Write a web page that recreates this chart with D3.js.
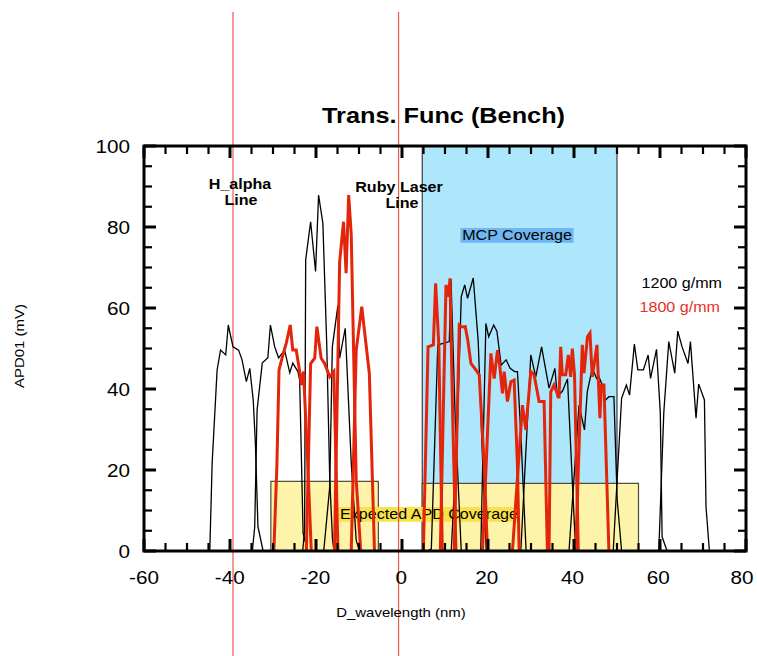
<!DOCTYPE html>
<html>
<head>
<meta charset="utf-8">
<script src="https://cdn.jsdelivr.net/npm/d3@7"></script>
<style>
  html, body { margin: 0; padding: 0; background: #fff; }
  svg { display: block; }
  text { font-family: 'Liberation Sans', Arial, Helvetica, sans-serif; }
</style>
</head>
<body>
<svg id="chart" width="757" height="656"></svg>
<script>
// ---- data -------------------------------------------------------------
const xTicks = [-60, -40, -20, 0, 20, 40, 60, 80];
const yTicks = [0, 20, 40, 60, 80, 100];

// reference spectral lines (nm offset)
const lineNames = [["H_alpha", "Line"], ["Ruby Laser", "Line"]];
const lineOffsets = [-39.3, -0.8];

// coverage bands: [from nm, to nm, height mV]
const mcpBand = [4.7, 50, 100];
const apdBands = [[-30.5, -5.5, 17.2], [4.7, 55, 16.7]];

const seriesNames = ["1200 g/mm", "1800 g/mm"];

// 1200 g/mm transmission scans, [nm, mV]
const g1200_a = [[-44.7,0],[-44.15,21.7],[-43.0,44.7],[-42.2,49.6],[-41.0,48.4],[-40.4,55.8],[-39.3,50.4],[-38.0,49.6],[-37.2,47.2],[-36.2,41.8],[-35.4,45.1],[-34.6,37.3],[-34.1,26.7],[-33.5,6.0],[-32.3,0]];
const g1200_b = [[-34.8,0],[-34.25,6.0],[-33.7,34.8],[-32.5,46.4],[-31.2,47.7],[-30.6,55.8],[-29.6,50.4],[-28.7,47.7],[-27.3,49.6],[-26.1,44.0],[-25.4,46.4],[-24.2,44.3],[-23.8,42.2],[-23.0,4.4],[-21.95,0]];
const g1200_c = [[-23.1,0],[-22.65,5.2],[-22.4,71.9],[-21.25,81.3],[-20.1,69.0],[-19.4,87.9],[-18.4,80.9],[-17.5,50.9],[-16.8,17.5],[-16.15,2.7],[-15.8,0]];
const g1200_d = [[-18.2,0],[-16.8,15.9],[-16.2,50.4],[-14.9,60.7],[-14.5,47.6],[-13.2,55.0],[-11.8,21.7],[-10.65,2.7],[-9.9,0]];
const g1200_e = [[5.78,0],[6.82,0.5],[8.33,50.9],[9.84,51.3],[11.0,51.7],[11.39,67.2],[12.39,32.3],[13.78,0]];
const g1200_f = [[11.46,0],[12.85,29.9],[13.78,62.8],[14.59,65.7],[15.24,62.4],[16.57,67.4],[17.73,51.7],[18.65,24.9],[19.58,0]];
const g1200_g = [[18.31,0],[19.51,56.2],[20.16,52.9],[21.32,55.8],[22.07,54.3],[23.06,45.9],[24.22,47.2],[25.15,45.1],[26.2,44.3],[26.85,44.3],[27.7,27.4],[28.86,0]];
const g1200_h = [[27.63,0],[29.95,48.4],[31.11,43.0],[32.46,50.4],[34.2,40.2],[35.55,45.1],[36.13,38.1],[37.33,39.5],[38.49,42.5],[39.61,17.1],[40.4,0]];
const g1200_i = [[38.84,0],[41.16,36.0],[42.44,29.9],[43.09,39.3],[44.25,45.1],[45.27,42.6],[45.8,43.0],[46.57,41.0],[47.36,37.3],[48.12,38.1],[49.28,38.1],[50.05,12.6],[51.07,0]];
const g1200_j = [[49.12,0],[51.07,37.7],[52.18,41.0],[52.92,38.5],[54.04,51.1],[54.85,44.7],[56.13,44.7],[57.24,48.4],[57.8,42.6],[59.19,49.8],[60.07,34.1],[60.49,3.5],[61.65,0]];
const g1200_k = [[59.72,0],[60.88,34.1],[62.04,51.7],[63.43,43.9],[64.13,54.3],[65.13,50.4],[66.52,46.3],[67.08,51.7],[68.38,32.8],[69.0,41.2],[70.33,37.3],[70.7,10.9],[71.49,0]];

// 1800 g/mm transmission scans, [nm, mV]
const g1800_a = [[-29.8,0],[-29.1,21],[-28.6,44.7],[-27.7,48.4],[-26.9,51.4],[-26.0,55.8],[-25.4,49.6],[-24.6,49.6],[-23.8,44.3],[-23.4,41.0],[-22.9,44.3],[-21.95,22.5],[-21.1,0]];
const g1800_b = [[-22.25,0],[-21.25,46.3],[-20.3,47.6],[-19.8,55.4],[-18.8,47.6],[-18.0,46.3],[-16.8,43.0],[-15.85,44.3],[-14.9,0]];
const g1800_c = [[-15.7,0],[-14.5,71.4],[-13.6,81.3],[-13.0,68.6],[-12.4,87.9],[-11.8,78.0],[-10.65,17.5],[-9.6,0]];
const g1800_d = [[-11.8,0],[-10.65,49.6],[-9.35,60.3],[-8.7,54.1],[-7.6,43.9],[-6.4,0]];
const g1800_e = [[4.97,0],[6.06,50.4],[7.29,50.9],[7.82,66.1],[8.56,50.9],[9.37,0]];
const g1800_f = [[8.91,0],[10.23,65.7],[10.84,62.8],[11.16,67.3],[11.81,32.3],[12.55,0]];
const g1800_g = [[12.16,0],[13.32,55.8],[14.01,55.3],[14.71,55.4],[15.29,52.1],[16.03,46.3],[17.19,44.7],[17.96,43.5],[19.12,21.2],[19.88,0]];
const g1800_h = [[18.73,0],[20.67,48.8],[21.44,42.6],[22.21,49.6],[22.72,45.9],[23.36,38.9],[23.76,44.3],[24.53,36.9],[25.31,41.8],[26.08,42.2],[26.85,21.2],[27.24,0]];
const g1800_i = [[25.69,0],[28.01,36.0],[28.79,29.9],[29.95,44.3],[30.72,43.5],[31.88,36.9],[33.04,36.9],[33.81,0]];
const g1800_j = [[34.2,0],[34.59,39.3],[35.36,41.0],[36.52,37.7],[36.91,50.4],[37.29,43.5],[38.07,43.5],[38.68,48.4],[39.23,43.0],[39.61,50.0],[40.12,43.5],[41.0,0]];
const g1800_k = [[40.4,0],[41.93,50.9],[42.32,43.9],[43.13,52.9],[43.71,53.8],[44.25,43.0],[45.34,50.9],[46.03,32.8],[46.33,41.0],[46.96,41.0],[48.12,0]];

const scans1200 = [g1200_a, g1200_b, g1200_c, g1200_d, g1200_e, g1200_f, g1200_g, g1200_h, g1200_i, g1200_j, g1200_k];
const scans1800 = [g1800_a, g1800_b, g1800_c, g1800_d, g1800_e, g1800_f, g1800_g, g1800_h, g1800_i, g1800_j, g1800_k];

// ---- drawing ----------------------------------------------------------
const svg = d3.select("#chart");
const x = d3.scaleLinear().domain([-60, 80]).range([144, 746]);
const y = d3.scaleLinear().domain([0, 100]).range([551, 146]);
// tick numbers sit on a slightly tighter spacing than the tick marks
const xLabel = d3.scaleLinear().domain([-60, 80]).range([144, 744]);

const RED_LINE = "#e95a45";
const RED_SCAN = "#e3250b";
const WIDE = 1.15; // horizontal glyph stretch used for all text

function label(parent, str, px, py, o = {}) {
  const g = parent.append("g")
    .attr("transform", `translate(${px},${py})` + (o.rotate ? ` rotate(${o.rotate})` : "") + ` scale(${WIDE},1)`);
  const t = g.append("text")
    .attr("text-anchor", o.anchor || "middle")
    .attr("font-size", o.size || 14)
    .attr("font-weight", o.bold ? "bold" : "normal")
    .attr("fill", o.color || "#000")
    .text(str);
  if (o.bg) {
    const b = t.node().getBBox();
    g.insert("rect", "text")
      .attr("x", b.x - 1.5).attr("y", b.y + 1)
      .attr("width", b.width + 3).attr("height", b.height - 1)
      .attr("fill", o.bg);
  }
  return g;
}

// coverage bands
svg.append("rect")
  .attr("x", x(mcpBand[0])).attr("y", y(mcpBand[2]))
  .attr("width", x(mcpBand[1]) - x(mcpBand[0]))
  .attr("height", y(0) - y(mcpBand[2]))
  .attr("fill", "#aee6fb").attr("stroke", "#1a1a1a").attr("stroke-width", 1);

svg.selectAll("rect.apd").data(apdBands).join("rect")
  .attr("class", "apd")
  .attr("x", d => x(d[0])).attr("y", d => y(d[2]))
  .attr("width", d => x(d[1]) - x(d[0]))
  .attr("height", d => y(0) - y(d[2]))
  .attr("fill", "#fdf3a9").attr("stroke", "#4a4a3a").attr("stroke-width", 1.2);

label(svg, "MCP Coverage", 517, 240, { size: 14, bg: "#6fb7f2" });
label(svg, "Expected APD Coverage", 429, 519, { size: 14, bg: "#f8e24c" });

// reference line markers
svg.selectAll("line.ref").data(lineOffsets).join("line")
  .attr("class", "ref")
  .attr("x1", d => x(d)).attr("x2", d => x(d))
  .attr("y1", 12).attr("y2", 656)
  .attr("stroke", RED_LINE).attr("stroke-width", 1.2);

label(svg, lineNames[0][0], 240, 189, { size: 14, bold: true });
label(svg, lineNames[0][1], 241, 205, { size: 14, bold: true });
label(svg, lineNames[1][0], 399, 192, { size: 14, bold: true });
label(svg, lineNames[1][1], 402, 208, { size: 14, bold: true });

// scans
const line = d3.line().x(d => x(d[0])).y(d => y(d[1]));
svg.append("g").selectAll("path").data(scans1200).join("path")
  .attr("d", line).attr("fill", "none")
  .attr("stroke", "#000").attr("stroke-width", 1.3).attr("stroke-linejoin", "miter");
svg.append("g").selectAll("path").data(scans1800).join("path")
  .attr("d", line).attr("fill", "none")
  .attr("stroke", RED_SCAN).attr("stroke-width", 3).attr("stroke-linejoin", "miter");

// frame
svg.append("rect")
  .attr("x", x(-60)).attr("y", y(100))
  .attr("width", x(80) - x(-60)).attr("height", y(0) - y(100))
  .attr("fill", "none").attr("stroke", "#000").attr("stroke-width", 3);

// inward ticks on all four sides: every 5 units, longer every 20
const tickX = d3.range(-60, 81, 5).map(v => ({ v, major: v % 20 === 0 }));
const tickY = d3.range(0, 101, 5).map(v => ({ v, major: v % 20 === 0 }));
const tg = svg.append("g").attr("stroke", "#000").attr("stroke-linecap", "butt");
const len = d => d.major ? 12 : 8;
const wid = d => d.major ? 3 : 2.2;
[[y(0), -1], [y(100), 1]].forEach(([py, dir]) => {
  tg.append("g").selectAll("line").data(tickX).join("line")
    .attr("x1", d => x(d.v)).attr("x2", d => x(d.v))
    .attr("y1", py).attr("y2", d => py + dir * len(d))
    .attr("stroke-width", wid);
});
[[x(-60), 1], [x(80), -1]].forEach(([px, dir]) => {
  tg.append("g").selectAll("line").data(tickY).join("line")
    .attr("y1", d => y(d.v)).attr("y2", d => y(d.v))
    .attr("x1", px).attr("x2", d => px + dir * len(d))
    .attr("stroke-width", wid);
});

// tick labels
xTicks.forEach(v => label(svg, String(v), Math.min(xLabel(v), 742), 584, { size: 18 }));
yTicks.forEach(v => label(svg, String(v), 130, y(v) + 6.5, { size: 18, anchor: "end" }));

// titles
label(svg, "Trans. Func (Bench)", 443.5, 123, { size: 22, bold: true });
label(svg, "D_wavelength (nm)", 401, 617, { size: 13 });
label(svg, "APD01 (mV)", 24, 346, { size: 13, rotate: -90 });

// legend
label(svg, seriesNames[0], 722, 288, { size: 14, anchor: "end" });
label(svg, seriesNames[1], 720, 311.5, { size: 14, anchor: "end", color: "#e8301c" });
</script>
</body>
</html>
